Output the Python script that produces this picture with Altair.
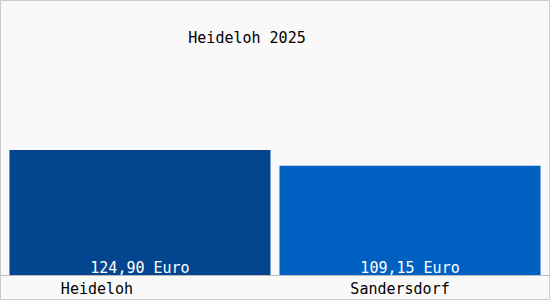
import altair as alt
import pandas as pd

categories = ["Heideloh", "Sandersdorf"]
values = [124.90, 109.15]
bar_colors = ["#03468f", "#0061c3"]
title_text = "Heideloh 2025"

labels = [f"{v:.2f}".replace(".", ",") + " Euro" for v in values]
df = pd.DataFrame({"cat": categories, "val": values, "label": labels})

FONT = "DejaVu Sans Mono"

x_enc = alt.X(
    "cat:N",
    sort=categories,
    scale=alt.Scale(paddingInner=0.0333, paddingOuter=0.035),
    axis=alt.Axis(
        title=None, ticks=False, tickSize=0, labelAngle=0,
        labelFont=FONT, labelFontSize=15, labelColor="#000000",
        labelBaseline="alphabetic", labelPadding=18,
        labelOffset={"condition": {"test": f"datum.value === '{categories[0]}'", "value": -43}, "value": -10},
        domainColor="#bbbbbb", domainWidth=1, grid=False,
    ),
)

bars = alt.Chart(df).mark_bar().encode(
    x=x_enc,
    y=alt.Y("val:Q", scale=alt.Scale(domain=[0, 275], nice=False, zero=True), axis=None),
    color=alt.Color("cat:N", scale=alt.Scale(domain=categories, range=bar_colors), legend=None),
)

value_text = alt.Chart(df).mark_text(
    font=FONT, fontSize=15, color="#ffffff",
    baseline="alphabetic", align="center"
).encode(
    x=alt.X("cat:N", sort=categories),
    y=alt.value(273),
    text="label:N",
)

title_df = pd.DataFrame({"t": [title_text]})
title = alt.Chart(title_df).mark_text(
    font=FONT, fontSize=15, color="#000000",
    baseline="alphabetic", align="center"
).encode(x=alt.value(247), y=alt.value(43), text="t:N")

frame = alt.Chart(title_df).mark_rect(
    fill=None, stroke="#cccccc", strokeWidth=1
).encode(x=alt.value(0.5), x2=alt.value(549.5), y=alt.value(0.5), y2=alt.value(299.5))

chart = alt.layer(bars, value_text, title, frame).properties(
    width=550, height=275,
    autosize=alt.AutoSizeParams(type="none"),
    padding={"left": 0, "top": 0, "right": 0, "bottom": 25},
    background="#f9f9f9",
).configure_view(stroke=None)

chart.save("out.html", embed_options={"renderer": "svg", "actions": False})
